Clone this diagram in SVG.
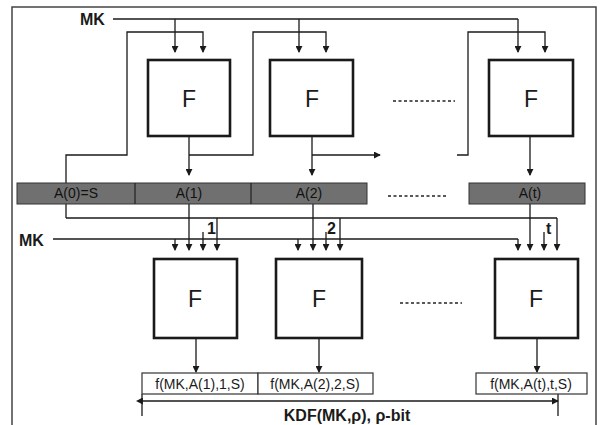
<svg xmlns="http://www.w3.org/2000/svg" width="600" height="425" viewBox="0 0 600 425">
<defs>
<marker id="ah" viewBox="0 0 8 8" refX="7" refY="4" markerWidth="7" markerHeight="7" markerUnits="userSpaceOnUse" orient="auto"><path d="M0,0 L8,4 L0,8 Z" fill="#1a1a1a"/></marker>
<marker id="ahs" viewBox="0 0 8 8" refX="1" refY="4" markerWidth="7" markerHeight="7" markerUnits="userSpaceOnUse" orient="auto-start-reverse"><path d="M0,0 L8,4 L0,8 Z" fill="#1a1a1a"/></marker>
</defs>
<style>
.box{fill:#fff;stroke:#1a1a1a;stroke-width:2.6}
.ln{fill:none;stroke:#1a1a1a;stroke-width:1.3}
.ar{fill:none;stroke:#1a1a1a;stroke-width:1.3;marker-end:url(#ah)}
.fl{font-family:"Liberation Sans",Arial,sans-serif;font-size:23px;fill:#1a1a1a;text-anchor:middle}
.bl{font-family:"Liberation Sans",Arial,sans-serif;font-size:16px;font-weight:bold;fill:#1a1a1a}
.bar{fill:#707070;stroke:#333;stroke-width:1}
.bt{font-family:"Liberation Sans",Arial,sans-serif;font-size:14px;fill:#111;text-anchor:middle}
.ob{fill:#fff;stroke:#333;stroke-width:1.2}
.ot{font-family:"Liberation Sans",Arial,sans-serif;font-size:14px;fill:#1a1a1a;text-anchor:middle}
.dot{fill:none;stroke:#222;stroke-width:1.3;stroke-dasharray:3,2.5}
</style>
<rect x="12" y="7" width="584" height="430" fill="none" stroke="#444" stroke-width="1.5"/>
<text class="bl" x="80" y="25">MK</text>
<text class="bl" x="19" y="246">MK</text>
<g id="connectors">
<path class="ln" d="M113,19 H518"/>
<path class="ar" d="M175,19 V52"/>
<path class="ar" d="M299,19 V52"/>
<path class="ar" d="M518,19 V52"/>
<path class="ar" d="M66,218 V155 H127 V32 H203 V52"/>
<path class="ar" d="M189,136 V175"/>
<path class="ar" d="M189,155 H253 V32 H326 V52"/>
<path class="ar" d="M312,136 V175"/>
<path class="ar" d="M312,155 H380"/>
<path class="ar" d="M457,155 H468 V32 H545 V52"/>
<path class="ar" d="M530,136 V175"/>
<path class="ln" d="M66,218 H557"/>
<path class="ln" d="M53,239 H518"/>
<path class="ar" d="M175,239 V250"/>
<path class="ar" d="M298,239 V250"/>
<path class="ar" d="M518,239 V250"/>
<path class="ar" d="M189,204 V250"/>
<path class="ar" d="M313,204 V250"/>
<path class="ar" d="M530,204 V250"/>
<path class="ar" d="M203,232 V250"/>
<path class="ar" d="M326,232 V250"/>
<path class="ar" d="M544,232 V250"/>
<path class="ar" d="M217,218 V250"/>
<path class="ar" d="M340,218 V250"/>
<path class="ar" d="M557,218 V250"/>
<path class="ar" d="M196,338 V372"/>
<path class="ar" d="M319,338 V372"/>
<path class="ar" d="M537,338 V372"/>
<path class="ln" d="M142,401 H558" marker-start="url(#ahs)" marker-end="url(#ah)"/>
<path class="ln" d="M142,394 V416"/>
<path class="ln" d="M558,394 V416"/>
<path class="dot" d="M393,101 H455"/>
<path class="dot" d="M400,303 H462"/>
</g>
<text class="bl" x="207" y="234" font-size="15">1</text>
<text class="bl" x="327" y="234" font-size="15">2</text>
<text class="bl" x="546" y="234" font-size="15">t</text>
<g id="bar">
<rect class="bar" x="17" y="183" width="350" height="21"/>
<path d="M135,183 V204 M251,183 V204" stroke="#222" stroke-width="1.2"/>
<rect class="bar" x="469" y="183" width="116" height="21"/>
<path class="dot" d="M388,196 H448"/>
<text class="bt" x="76" y="198">A(0)=S</text>
<text class="bt" x="189" y="198">A(1)</text>
<text class="bt" x="309" y="198">A(2)</text>
<text class="bt" x="530" y="198">A(t)</text>
</g>
<g id="F1top"><rect class="box" x="148" y="60" width="82" height="76"/><text class="fl" x="189" y="107">F</text></g>
<g id="F2top"><rect class="box" x="270" y="60" width="83" height="76"/><text class="fl" x="312" y="107">F</text></g>
<g id="F3top"><rect class="box" x="489" y="60" width="84" height="76"/><text class="fl" x="531" y="107">F</text></g>
<g id="F1bot"><rect class="box" x="154" y="259" width="83" height="79"/><text class="fl" x="195" y="307">F</text></g>
<g id="F2bot"><rect class="box" x="276" y="259" width="86" height="79"/><text class="fl" x="319" y="307">F</text></g>
<g id="F3bot"><rect class="box" x="495" y="259" width="83" height="79"/><text class="fl" x="536" y="307">F</text></g>
<g id="out1"><rect class="ob" x="142" y="373" width="116" height="21"/><text class="ot" x="200" y="389">f(MK,A(1),1,S)</text></g>
<g id="out2"><rect class="ob" x="258" y="373" width="115" height="21"/><text class="ot" x="315" y="389">f(MK,A(2),2,S)</text></g>
<g id="out3"><rect class="ob" x="476" y="373" width="111" height="21"/><text class="ot" x="531" y="389">f(MK,A(t),t,S)</text></g>
<text class="bl" x="347" y="421" text-anchor="middle" font-size="17">KDF(MK,ρ), ρ-bit</text>
</svg>
